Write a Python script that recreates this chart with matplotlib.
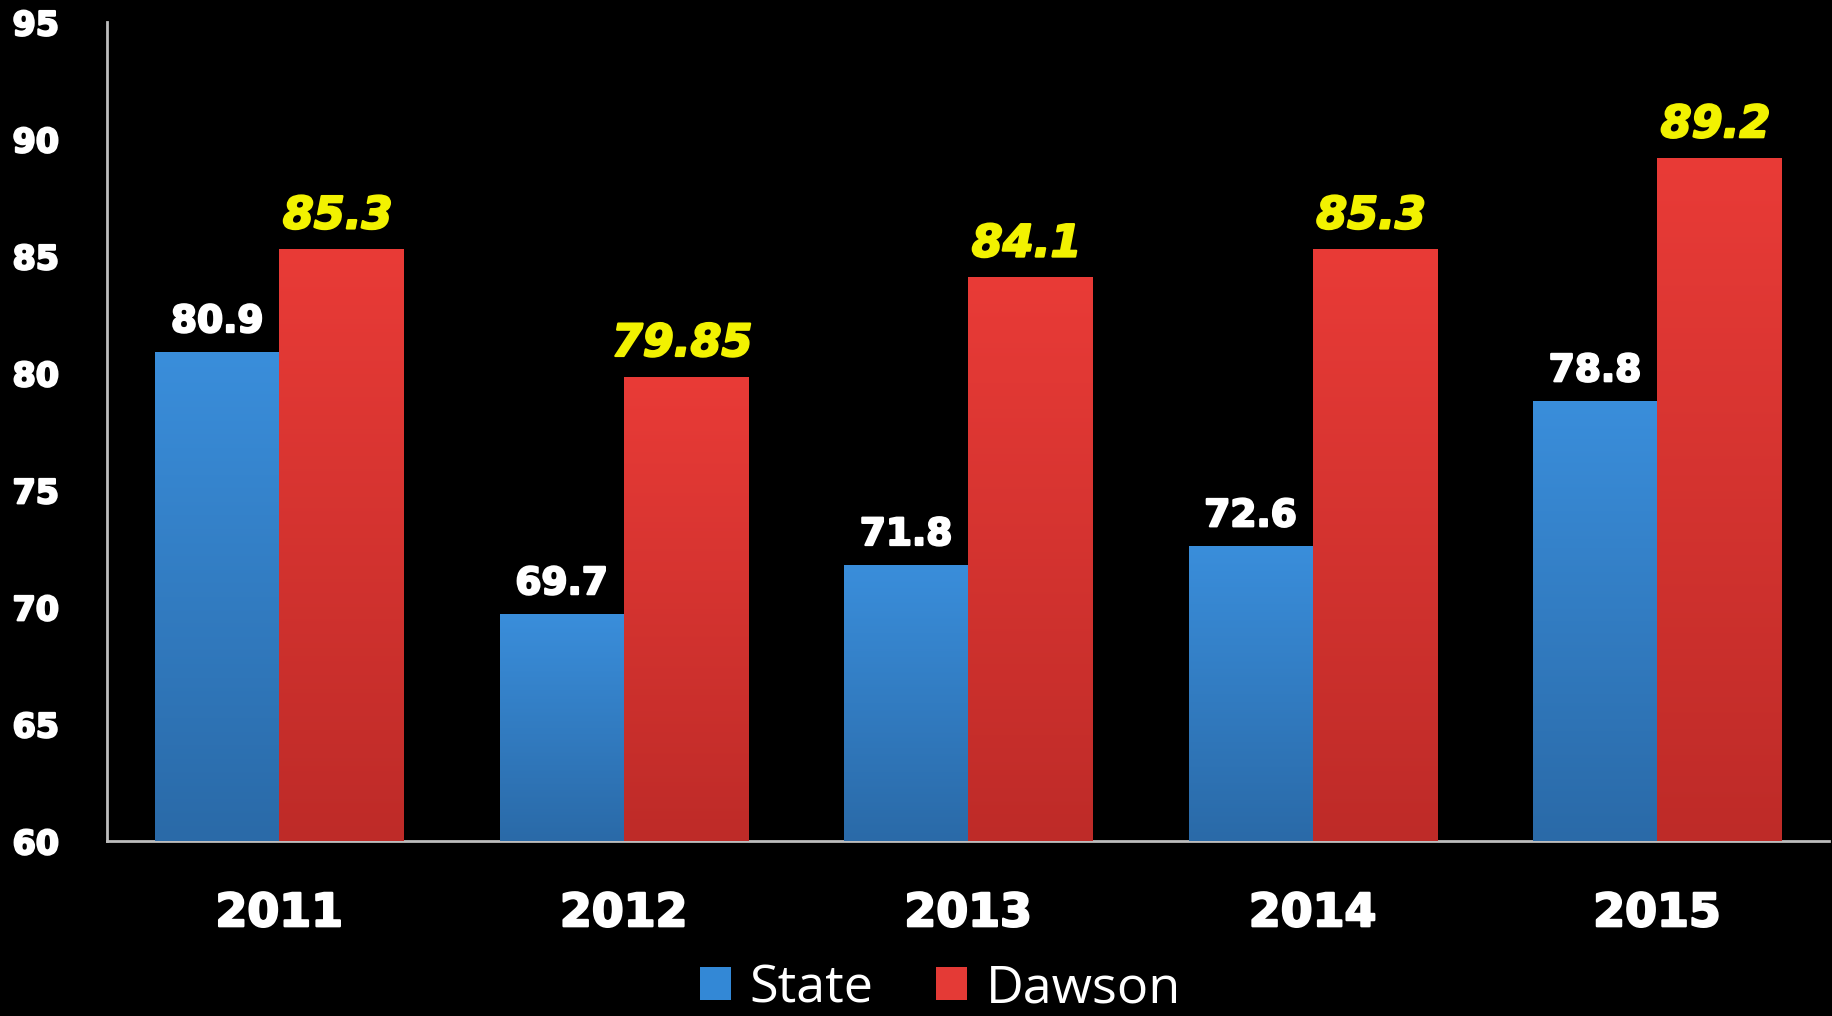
import matplotlib.pyplot as plt
import matplotlib.patheffects as pe
import numpy as np
from matplotlib.colors import LinearSegmentedColormap

# Data
years = ['2011', '2012', '2013', '2014', '2015']
state = [80.9, 69.7, 71.8, 72.6, 78.8]
dawson = [85.3, 79.85, 84.1, 85.3, 89.2]
state_labels = ['80.9', '69.7', '71.8', '72.6', '78.8']
dawson_labels = ['85.3', '79.85', '84.1', '85.3', '89.2']
yticks = [60, 65, 70, 75, 80, 85, 90, 95]

fig = plt.figure(figsize=(18.33, 10.16), dpi=100, facecolor='black')
ax = fig.add_axes([0.0584, 0.172, 0.9396, 0.806])
ax.set_facecolor('black')

x = np.arange(len(years))
w = 0.36
ymin = 60

blue_cmap = LinearSegmentedColormap.from_list('b', ['#2a6aa8', '#3a8edb'])
red_cmap = LinearSegmentedColormap.from_list('r', ['#be2b28', '#e93b37'])

bars_s = ax.bar(x - w / 2, np.array(state) - ymin, w, bottom=ymin, color='#3388d6', label='State', zorder=2)
bars_d = ax.bar(x + w / 2, np.array(dawson) - ymin, w, bottom=ymin, color='#e43a36', label='Dawson', zorder=2)

# vertical gradient inside each bar
grad = np.linspace(0, 1, 256).reshape(-1, 1)
for bars, cmap in [(bars_s, blue_cmap), (bars_d, red_cmap)]:
    for b in bars:
        x0, y0 = b.get_x(), b.get_y()
        im = ax.imshow(grad, extent=[x0, x0 + b.get_width(), y0, y0 + b.get_height()],
                       origin='lower', aspect='auto', cmap=cmap, zorder=3)
        im.set_clip_path(b)

# heavier look for the bold text
thick_w = [pe.withStroke(linewidth=1.6, foreground='white')]
thick_y = [pe.withStroke(linewidth=1.6, foreground='#f2f200')]

# value labels
for xi, v, s in zip(x, state, state_labels):
    ax.annotate(s, (xi - w / 2, v), xytext=(0, 14.5), textcoords='offset points',
                ha='center', va='baseline', color='white', fontsize=27, fontweight='bold',
                path_effects=thick_w)
for xi, v, s in zip(x, dawson, dawson_labels):
    ax.annotate(s, (xi + w / 2 - 0.01, v), xytext=(0, 15), textcoords='offset points',
                ha='center', va='baseline', color='#f2f200', fontsize=32,
                fontweight='bold', fontstyle='italic', path_effects=thick_y)

ax.set_xlim(-0.5, 4.5)
ax.set_ylim(60, 95)
ax.set_xticks(x)
ax.set_xticklabels(years, fontsize=33, fontweight='bold', color='white')
ax.set_yticks(yticks)
ax.set_yticklabels([str(t) for t in yticks], fontsize=24, fontweight='bold', color='white', ha='left')
for t in ax.get_xticklabels() + ax.get_yticklabels():
    t.set_path_effects(thick_w)
ax.tick_params(axis='x', length=0, pad=36)
ax.tick_params(axis='y', length=0, pad=68)

for side in ['top', 'right']:
    ax.spines[side].set_visible(False)
for side in ['left', 'bottom']:
    ax.spines[side].set_color('#bdbdbd')
    ax.spines[side].set_linewidth(2)

leg = fig.legend(handles=[bars_s, bars_d], labels=['State', 'Dawson'], loc='center',
                 bbox_to_anchor=(0.513, 0.027), ncol=2, frameon=False,
                 prop={'family': 'Open Sans', 'size': 37.5}, labelcolor='white',
                 handlelength=0.6, handleheight=0.6, handletextpad=0.35, columnspacing=1.2)

fig.savefig('out.png', dpi=100, facecolor='black')
